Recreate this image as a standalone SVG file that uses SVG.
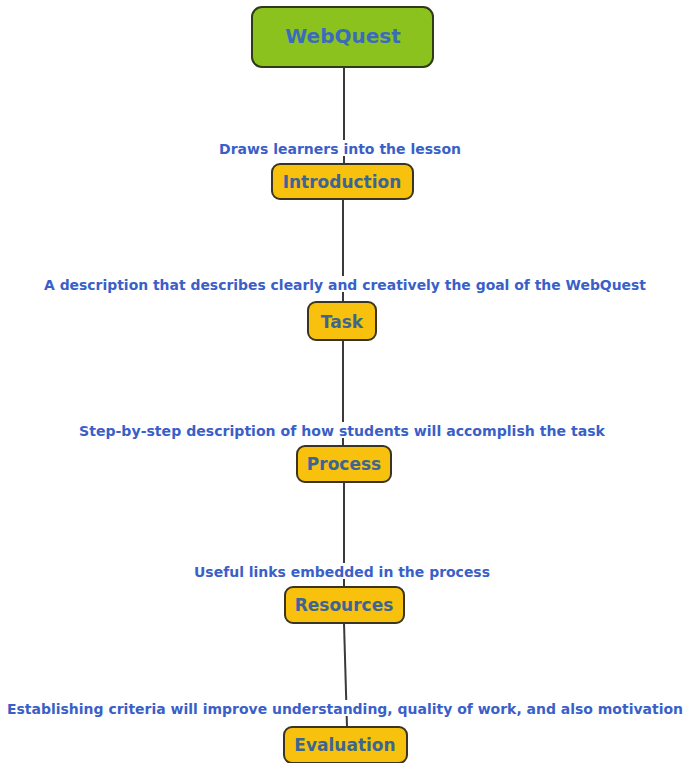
<svg xmlns="http://www.w3.org/2000/svg" width="686" height="763" viewBox="0 0 686 763">
<style>
.bg{fill:#ffffff}
.conn{stroke:#3a3a3a;stroke-width:2;fill:none}
.node{fill:#f8c10e;stroke:#3a3520;stroke-width:2}
.root{fill:#8cc21e;stroke:#2e3a18;stroke-width:2}
.nt{font-family:"DejaVu Sans",Verdana,sans-serif;font-weight:bold;font-size:17px;fill:#3d6591;text-anchor:middle}
.rt{font-family:"DejaVu Sans",Verdana,sans-serif;font-weight:bold;font-size:20px;fill:#3a6cbc;text-anchor:middle}
.lbl{font-family:"DejaVu Sans",Verdana,sans-serif;font-weight:bold;font-size:14px;fill:#3a5fc8;text-anchor:middle}
</style>
<rect class="bg" x="0" y="0" width="686" height="763"/>
<g id="connectors">
<line class="conn" x1="344" y1="67" x2="344" y2="164"/>
<line class="conn" x1="343" y1="199" x2="343" y2="302"/>
<line class="conn" x1="343" y1="340" x2="343" y2="446"/>
<line class="conn" x1="344" y1="482" x2="344" y2="587"/>
<line class="conn" x1="344" y1="623" x2="347" y2="727"/>
</g>
<g id="labels">
<rect x="215" y="140" width="250" height="16" fill="#fff"/>
<text class="lbl" x="340" y="154" textLength="242" lengthAdjust="spacingAndGlyphs">Draws learners into the lesson</text>
<rect x="40" y="276" width="610" height="16" fill="#fff"/>
<text class="lbl" x="345" y="290" textLength="602" lengthAdjust="spacingAndGlyphs">A description that describes clearly and creatively the goal of the WebQuest</text>
<rect x="76" y="422" width="530" height="16" fill="#fff"/>
<text class="lbl" x="342" y="436" textLength="526" lengthAdjust="spacingAndGlyphs">Step-by-step description of how students will accomplish the task</text>
<rect x="192" y="563" width="300" height="16" fill="#fff"/>
<text class="lbl" x="342" y="577" textLength="296" lengthAdjust="spacingAndGlyphs">Useful links embedded in the process</text>
<rect x="6" y="700" width="676" height="16" fill="#fff"/>
<text class="lbl" x="345" y="714" textLength="676" lengthAdjust="spacingAndGlyphs">Establishing criteria will improve understanding, quality of work, and also motivation</text>
</g>
<g id="webquest">
<rect class="root" x="252" y="7" width="181" height="60" rx="10"/>
<text class="rt" x="343" y="43">WebQuest</text>
</g>
<g id="introduction">
<rect class="node" x="272" y="164" width="141" height="35" rx="8"/>
<text class="nt" x="342" y="188">Introduction</text>
</g>
<g id="task">
<rect class="node" x="308" y="302" width="68" height="38" rx="8"/>
<text class="nt" x="342" y="328">Task</text>
</g>
<g id="process">
<rect class="node" x="297" y="446" width="94" height="36" rx="8"/>
<text class="nt" x="344" y="470">Process</text>
</g>
<g id="resources">
<rect class="node" x="285" y="587" width="119" height="36" rx="8"/>
<text class="nt" x="344" y="611">Resources</text>
</g>
<g id="evaluation">
<rect class="node" x="284" y="727" width="123" height="36" rx="8"/>
<text class="nt" x="345" y="751">Evaluation</text>
</g>
</svg>
